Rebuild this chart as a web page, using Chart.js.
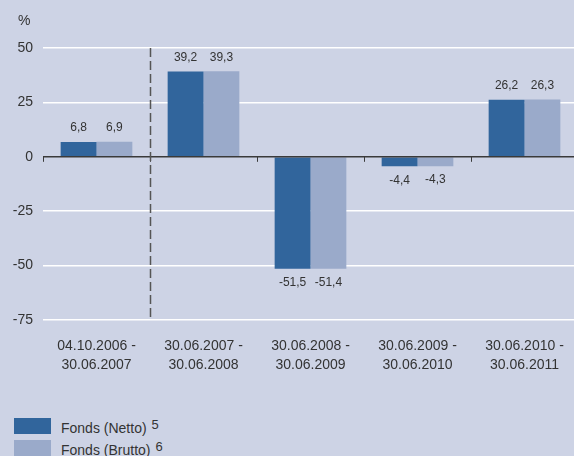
<!DOCTYPE html>
<html>
<head>
<meta charset="utf-8">
<script src="https://cdn.jsdelivr.net/npm/chart.js@4.4.1/dist/chart.umd.min.js"></script>
<style>
    html, body {
        margin: 0;
        padding: 0;
        width: 574px;
        height: 456px;
        overflow: hidden;
        background: #cdd3e5;
        font-family: "Liberation Sans", Arial, sans-serif;
        color: #333333;
    }
    #wrap { position: relative; width: 574px; height: 456px; }
    #chart { position: absolute; left: 0; top: 0; }
    .legend-row { position: absolute; left: 14px; height: 16px; font-size: 14px; }
    .legend-box { position: absolute; left: 0; top: 0; width: 37px; height: 16px; }
    .legend-text { position: absolute; left: 47px; top: 1px; line-height: 18px; white-space: nowrap; }
    .legend-text sup { font-size: 13px; position: relative; top: -4px; margin-left: 5px; vertical-align: baseline; }
</style>
</head>
<body>
<div id="wrap">
    <canvas id="chart" width="580" height="400"></canvas>
    <div class="legend-row" style="top:418px">
        <div class="legend-box" style="background:#31659c"></div>
        <div class="legend-text">Fonds (Netto)<sup>5</sup></div>
    </div>
    <div class="legend-row" style="top:440px">
        <div class="legend-box" style="background:#9aaaca"></div>
        <div class="legend-text">Fonds (Brutto)<sup>6</sup></div>
    </div>
</div>
<script>
// periods shown on the x axis
const periods = [
    ['04.10.2006 -', '30.06.2007'],
    ['30.06.2007 -', '30.06.2008'],
    ['30.06.2008 -', '30.06.2009'],
    ['30.06.2009 -', '30.06.2010'],
    ['30.06.2010 -', '30.06.2011']
];

// performance in %
const fondsNetto = [6.8, 39.2, -51.5, -4.4, 26.2];
const fondsBrutto = [6.9, 39.3, -51.4, -4.3, 26.3];

// y axis
const yTicks = [50, 25, 0, -25, -50, -75];

const COLOR_NETTO = '#31659c';
const COLOR_BRUTTO = '#9aaaca';
const TEXT_COLOR = '#333333';
const FONT = '"Liberation Sans", Arial, sans-serif';

// value labels above / below each bar
const valueLabels = {
    id: 'valueLabels',
    afterDatasetsDraw(chart) {
        const ctx = chart.ctx;
        ctx.save();
        ctx.font = '12px ' + FONT;
        ctx.fillStyle = TEXT_COLOR;
        ctx.textAlign = 'center';
        ctx.textBaseline = 'middle';
        chart.data.datasets.forEach((ds, i) => {
            chart.getDatasetMeta(i).data.forEach((bar, j) => {
                const v = ds.data[j];
                const txt = v.toFixed(1).replace('.', ',');
                const y = v >= 0 ? bar.y - 14 : bar.y + 14;
                ctx.fillText(txt, bar.x, y);
            });
        });
        ctx.restore();
    }
};

// zero line ticks, dashed separator and "%" label
const decorations = {
    id: 'decorations',
    afterDatasetsDraw(chart) {
        const ctx = chart.ctx;
        const area = chart.chartArea;
        const y = chart.scales.y;
        const zero = y.getPixelForValue(0);
        const step = (area.right - area.left) / periods.length;

        ctx.save();
        // zero line
        ctx.strokeStyle = '#3a3a3a';
        ctx.lineWidth = 1.5;
        ctx.beginPath();
        ctx.moveTo(area.left, zero);
        ctx.lineTo(area.right, zero);
        ctx.stroke();

        // small ticks between categories
        ctx.lineWidth = 1;
        for (let i = 0; i < periods.length; i++) {
            const bx = Math.round(area.left + i * step) + 0.5;
            ctx.beginPath();
            ctx.moveTo(bx, zero);
            ctx.lineTo(bx, zero + 5);
            ctx.stroke();
        }

        // dashed separator after the first period
        const sx = Math.round(area.left + step) + 0.5;
        ctx.strokeStyle = '#555555';
        ctx.lineWidth = 1.5;
        ctx.setLineDash([9, 4]);
        ctx.beginPath();
        ctx.moveTo(sx, area.top);
        ctx.lineTo(sx, area.bottom);
        ctx.stroke();
        ctx.setLineDash([]);

        // unit label
        ctx.font = '14px ' + FONT;
        ctx.fillStyle = TEXT_COLOR;
        ctx.textAlign = 'left';
        ctx.textBaseline = 'middle';
        ctx.fillText('%', 18, area.top - 27);
        ctx.restore();
    }
};

new Chart(document.getElementById('chart').getContext('2d'), {
    type: 'bar',
    data: {
        labels: periods,
        datasets: [
            {
                label: 'Fonds (Netto)',
                data: fondsNetto,
                backgroundColor: COLOR_NETTO,
                borderWidth: 0
            },
            {
                label: 'Fonds (Brutto)',
                data: fondsBrutto,
                backgroundColor: COLOR_BRUTTO,
                borderWidth: 0
            }
        ]
    },
    options: {
        responsive: false,
        animation: false,
        layout: {
            padding: { top: 48, left: 0, right: 2, bottom: 0 }
        },
        plugins: {
            legend: { display: false },
            tooltip: { enabled: false }
        },
        datasets: {
            bar: {
                categoryPercentage: 0.67,
                barPercentage: 1.0
            }
        },
        scales: {
            x: {
                grid: { display: false },
                border: { display: false },
                ticks: {
                    color: TEXT_COLOR,
                    font: { family: FONT, size: 14, lineHeight: 1.4 },
                    padding: 8,
                    maxRotation: 0,
                    autoSkip: false
                },
                afterFit(scale) {
                    scale.height = 80;
                }
            },
            y: {
                min: -75,
                max: 50,
                afterBuildTicks(scale) {
                    scale.ticks = yTicks.map(v => ({ value: v }));
                },
                grid: {
                    color: ctx => ctx.tick && ctx.tick.value === 0 ? 'rgba(0,0,0,0)' : '#ffffff',
                    lineWidth: 1.5,
                    drawTicks: false
                },
                border: { display: false },
                ticks: {
                    color: TEXT_COLOR,
                    font: { family: FONT, size: 14 },
                    padding: 10
                },
                afterFit(scale) {
                    scale.width = 43;
                }
            }
        }
    },
    plugins: [valueLabels, decorations]
});
</script>
</body>
</html>
